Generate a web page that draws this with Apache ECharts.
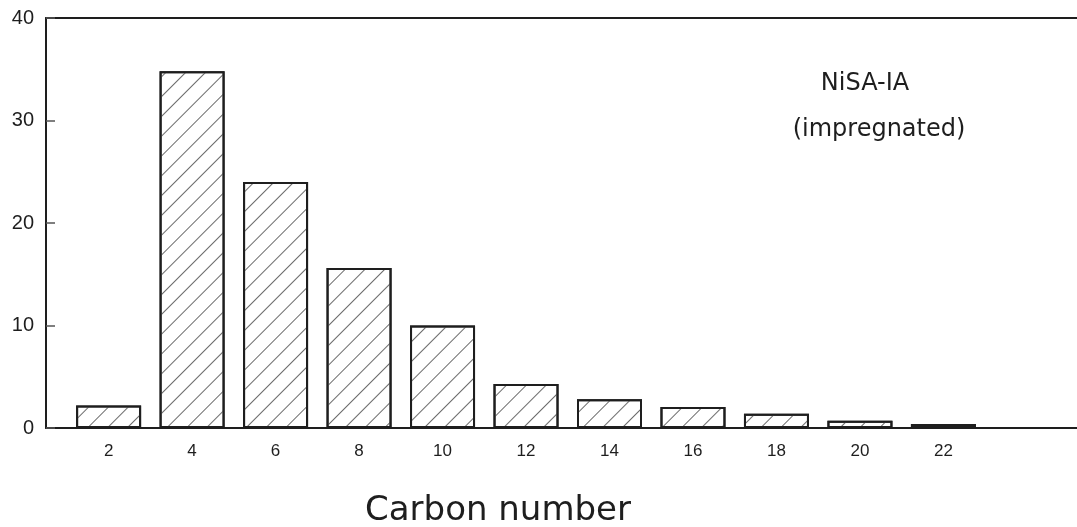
<!DOCTYPE html>
<html>
<head>
    <meta charset="UTF-8">
    <title>NiSA-IA carbon number distribution</title>
    <script src="https://cdn.jsdelivr.net/npm/echarts@6.0.0/dist/echarts.min.js"></script>
    <style>
        body { margin: 0; background: #fff; }
        #chart { width: 1077px; height: 527px; }
    </style>
</head>
<body>
    <div id="chart"></div>
    <script>
        // carbon number categories and their share (%)
        var carbonNumbers = [2, 4, 6, 8, 10, 12, 14, 16, 18, 20, 22];
        var shares = [2.2, 34.8, 24.0, 15.6, 10.0, 4.3, 2.8, 2.05, 1.4, 0.7, 0.4];
        var yTicks = [0, 10, 20, 30, 40];

        var chart = echarts.init(document.getElementById('chart'));
        var ink = '#1e1e1e';
        var labelFont = 'DejaVu Sans';

        var barData = carbonNumbers.map(function (c, i) { return [c, shares[i]]; });

        var option = {
            animation: false,
            backgroundColor: '#fff',
            title: [
                { text: 'NiSA-IA', left: 860, top: 67, textAlign: 'center',
                  textStyle: { fontFamily: labelFont, fontWeight: 'normal', fontSize: 24, color: ink } },
                { text: '(impregnated)', left: 874, top: 113, textAlign: 'center',
                  textStyle: { fontFamily: labelFont, fontWeight: 'normal', fontSize: 24, color: ink } },
                { text: 'Carbon number', left: 493, top: 489, textAlign: 'center',
                  textStyle: { fontFamily: labelFont, fontWeight: 'normal', fontSize: 34, color: ink } }
            ],
            grid: { left: 46, right: 0, top: 18, bottom: 99 },
            xAxis: [{
                type: 'value',
                min: 0.5,
                max: 25.2,
                axisLine: { show: true, onZero: false, lineStyle: { color: ink, width: 2 } },
                axisTick: { show: false },
                splitLine: { show: false },
                axisLabel: {
                    customValues: carbonNumbers,
                    margin: 15,
                    fontFamily: 'Liberation Sans',
                    fontSize: 17,
                    color: ink
                }
            }, {
                type: 'value',
                position: 'top',
                min: 0.5,
                max: 25.2,
                axisLine: { show: true, onZero: false, lineStyle: { color: ink, width: 2 } },
                axisTick: { show: false },
                axisLabel: { show: false },
                splitLine: { show: false }
            }],
            yAxis: {
                type: 'value',
                min: yTicks[0],
                max: yTicks[yTicks.length - 1],
                interval: 10,
                axisLine: { show: true, lineStyle: { color: ink, width: 2 } },
                axisTick: { show: true, inside: true, length: 9, lineStyle: { color: '#555', width: 1.5 } },
                splitLine: { show: false },
                axisLabel: {
                    margin: 12,
                    fontFamily: 'Liberation Sans',
                    fontSize: 20,
                    color: ink
                }
            },
            series: [{
                type: 'bar',
                data: barData,
                barWidth: 65,
                itemStyle: {
                    color: '#fff',
                    borderColor: ink,
                    borderWidth: 2,
                    decal: {
                        symbol: 'rect',
                        color: '#6a6a6a',
                        dashArrayX: [1, 0],
                        dashArrayY: [1, 12.5],
                        rotation: -Math.PI / 4
                    }
                }
            }]
        };

        chart.setOption(option);
    </script>
</body>
</html>
